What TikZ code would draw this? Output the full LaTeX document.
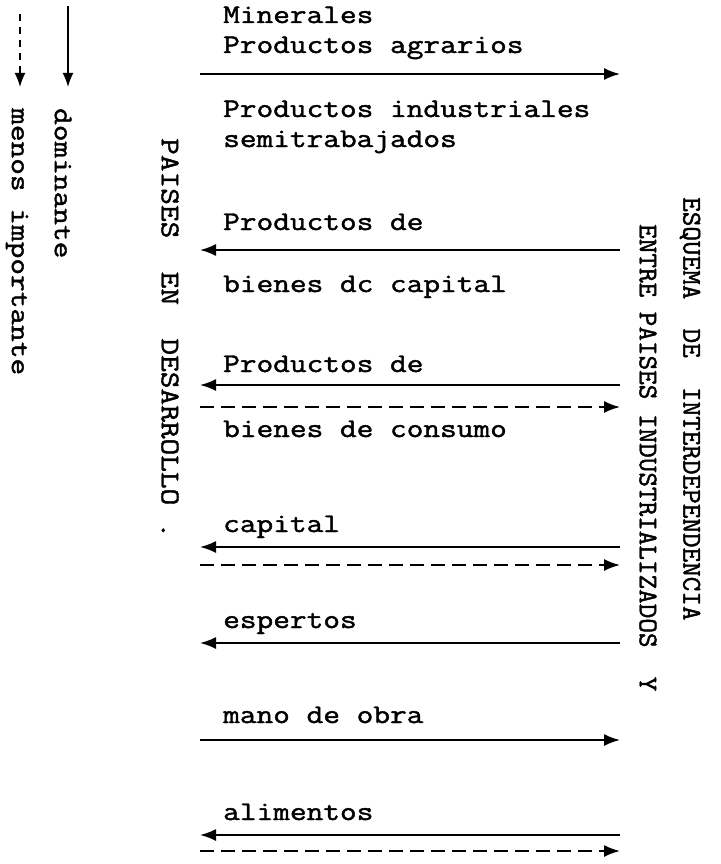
\documentclass[tikz,border=0pt]{standalone}
\usepackage{fontspec}
\newfontfamily\typewriter{Latin Modern Mono}[FakeBold=1.6, FakeStretch=1.2]
\newfontfamily\narrowtypewriter{Latin Modern Mono}[FakeBold=1.6, FakeStretch=1.05]
\usetikzlibrary{arrows.meta}
\tikzstyle{label}=[font=\typewriter\fontsize{27}{32}\selectfont, inner sep=0pt, anchor=base west]
\tikzstyle{sidelabel}=[font=\typewriter\fontsize{27}{32}\selectfont, inner sep=0pt, anchor=west, rotate=-90]
\tikzstyle{titlelabel}=[font=\narrowtypewriter\fontsize{27}{32}\selectfont, inner sep=0pt, anchor=west, rotate=-90]
\tikzstyle{flow}=[-{Latex[length=16pt,width=12pt]}, line width=1.8]
\tikzstyle{weakflow}=[-{Latex[length=16pt,width=12pt]}, line width=1.8, dash pattern=on 14pt off 7pt]
\tikzstyle{legendflow}=[-{Latex[length=14pt,width=11pt]}, line width=1.6]
\tikzstyle{legendweak}=[-{Latex[length=14pt,width=11pt]}, line width=1.6, dash pattern=on 7pt off 6pt]
\pgfdeclarelayer{edgelayer}
\pgfdeclarelayer{nodelayer}
\pgfsetlayers{edgelayer,nodelayer,main}
\begin{document}
\begin{tikzpicture}[x=1pt,y=-1pt]
	\useasboundingbox (0,0) rectangle (720,864);
	\begin{pgfonlayer}{nodelayer}
		% legend
		\coordinate (Dtop) at (68, 6);
		\coordinate (Dbot) at (68, 87);
		\coordinate (Mtop) at (20, 14);
		\coordinate (Mbot) at (20, 87);
		\node [style=sidelabel] (dom) at (63, 108) {dominante};
		\node [style=sidelabel] (menos) at (17, 108) {menos importante};

		% the two groups of countries
		\node [style=sidelabel] (desarrollo) at (170, 138) {PAISES\ \ EN\ \ DESARROLLO .};
		\node [style=titlelabel] (esquema) at (690, 197) {ESQUEMA\ \ DE\ \ INTERDEPENDENCIA};
		\node [style=titlelabel] (entre) at (648, 224) {ENTRE PAISES INDUSTRIALIZADOS\ \ Y};

		% flows
		\node [style=label] (minerales) at (223, 23) {Minerales};
		\node [style=label] (agrarios) at (223, 53) {Productos agrarios};
		\node [style=label] (industriales) at (223, 117) {Productos industriales};
		\node [style=label] (semi) at (223, 147) {semitrabajados};
		\node [style=label] (capA) at (223, 230) {Productos de};
		\node [style=label] (capB) at (223, 292) {bienes dc capital};
		\node [style=label] (conA) at (223, 372) {Productos de};
		\node [style=label] (conB) at (223, 437) {bienes de consumo};
		\node [style=label] (capital) at (223, 532) {capital};
		\node [style=label] (espertos) at (223, 628) {espertos};
		\node [style=label] (obra) at (223, 723) {mano de obra};
		\node [style=label] (alimentos) at (223, 820) {alimentos};

		\coordinate (L1) at (200, 74);   \coordinate (R1) at (620, 74);
		\coordinate (L2) at (200, 250);  \coordinate (R2) at (620, 250);
		\coordinate (L3) at (200, 385);  \coordinate (R3) at (620, 385);
		\coordinate (L4) at (200, 407);  \coordinate (R4) at (620, 407);
		\coordinate (L5) at (200, 547);  \coordinate (R5) at (620, 547);
		\coordinate (L6) at (200, 565);  \coordinate (R6) at (620, 565);
		\coordinate (L7) at (200, 643);  \coordinate (R7) at (620, 643);
		\coordinate (L8) at (200, 740);  \coordinate (R8) at (620, 740);
		\coordinate (L9) at (200, 835);  \coordinate (R9) at (620, 835);
		\coordinate (L10) at (200, 851); \coordinate (R10) at (620, 851);
	\end{pgfonlayer}
	\begin{pgfonlayer}{edgelayer}
		\draw [style=legendflow] (Dtop) to (Dbot);
		\draw [style=legendweak] (Mtop) to (Mbot);
		\draw [style=flow] (L1) to (R1);
		\draw [style=flow] (R2) to (L2);
		\draw [style=flow] (R3) to (L3);
		\draw [style=weakflow] (L4) to (R4);
		\draw [style=flow] (R5) to (L5);
		\draw [style=weakflow] (L6) to (R6);
		\draw [style=flow] (R7) to (L7);
		\draw [style=flow] (L8) to (R8);
		\draw [style=flow] (R9) to (L9);
		\draw [style=weakflow] (L10) to (R10);
	\end{pgfonlayer}
\end{tikzpicture}
\end{document}
